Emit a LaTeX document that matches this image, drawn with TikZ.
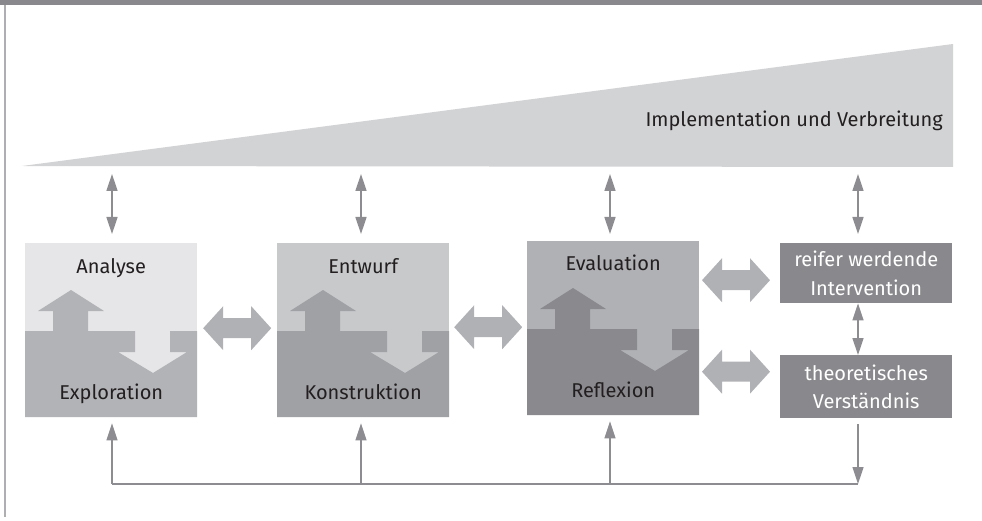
\documentclass[tikz,border=0pt]{standalone}
\usepackage{fontspec}
\setmainfont{Fira Sans}
\usetikzlibrary{arrows.meta,calc}
\definecolor{barc}{RGB}{137,137,141}
\definecolor{wedgec}{RGB}{210,211,213}
\definecolor{leftc}{RGB}{175,175,178}
\definecolor{atop}{RGB}{230,230,232}
\definecolor{abot}{RGB}{178,179,182}
\definecolor{btop}{RGB}{200,201,203}
\definecolor{bbot}{RGB}{160,161,165}
\definecolor{ctop}{RGB}{176,177,181}
\definecolor{cbot}{RGB}{138,138,142}
\definecolor{bigc}{RGB}{176,177,181}
\definecolor{arrc}{RGB}{140,140,145}
\definecolor{txt}{RGB}{35,31,32}
\tikzset{
  lbl/.style={font=\fontsize{20}{24}\selectfont, text=txt, inner sep=0pt, anchor=base},
  phase/.style={draw=none, minimum width=172pt, minimum height=174pt, inner sep=0pt, anchor=north west},
  side/.style={fill=barc, minimum width=172pt, inner sep=0pt, anchor=north west, text=white, align=center, font=\fontsize{20}{28.5}\selectfont},
  tipt/.tip={Triangle[width=11pt,length=17pt]},
  dblarr/.style={draw=arrc, line width=1.5pt, tipt-tipt},
  fbline/.style={draw=arrc, line width=1.2pt},
  fbarr/.style={draw=arrc, line width=1.2pt, -tipt},
  bigarr/.style={fill=bigc},
}
\newcommand\phasebox[7]{%
  \node[phase, fill=#4] (#1) at (#2,#3) {};
  \fill[#5, shift={(#1.north west)}] (0,88) -- (28,88) -- (28,68) -- (13,68) -- (46,47) -- (79,68) -- (63,68) -- (63,88)
     -- (110,88) -- (110,109) -- (93,109) -- (128,130) -- (162,109) -- (145,109) -- (145,88) -- (172,88)
     -- (172,174) -- (0,174) -- cycle;
  \node[lbl] (#1-top) at ([yshift=-30pt]#1.north) {#6};
  \node[lbl] (#1-bot) at ([yshift=-156pt]#1.north) {#7};
}
\newcommand\bigdarrow[1]{%
  \fill[bigarr, shift={#1}] (-34,0) -- (-14,-22) -- (-14,-10) -- (14,-10) -- (14,-22) -- (34,0)
     -- (14,22) -- (14,10) -- (-14,10) -- (-14,22) -- cycle;
}
\begin{document}
\begin{tikzpicture}[x=1pt,y=-1pt]
\useasboundingbox (0,0) rectangle (982,521);
% frame
\fill[barc] (0,0) rectangle (982,5);
\draw[leftc, line width=1.5pt] (5,5) -- (5,517);
% wedge
\fill[wedgec] (22,166) -- (953,44) -- (953,167) -- cycle;
\node[lbl, anchor=base east] (impl) at (943,127) {Implementation und Verbreitung};
\coordinate (wb) at (0,167);
% columns
\coordinate (c1) at (112,0);
\coordinate (c2) at (361,0);
\coordinate (c3) at (610,0);
\coordinate (c4) at (858,0);
\coordinate (fb) at (0,484);
% phase boxes
\phasebox{b1}{25}{243}{atop}{abot}{Analyse}{Exploration}
\phasebox{b2}{277}{243}{btop}{bbot}{Entwurf}{Konstruktion}
\phasebox{b3}{527}{241}{ctop}{cbot}{Evaluation}{Reflexion}
% side boxes
\node[side, minimum height=60pt] (b4) at (780,243) {reifer werdende\\Intervention};
\node[side, minimum height=63pt] (b5) at (780,355) {theoretisches\\Verständnis};
% big double arrows
\bigdarrow{($(b1.east)!0.5!(b2.west)+(0,-2)$)}
\bigdarrow{($(b2.east)!0.5!(b3.west)+(0,-2)$)}
\bigdarrow{([xshift=-44pt,yshift=-7pt]b4.west)}
\bigdarrow{([xshift=-44pt,yshift=15pt]b5.west)}
% small double arrows to wedge
\draw[dblarr, shorten <=7pt, shorten >=9pt] (c1 |- wb) -- (c1 |- b1.north);
\draw[dblarr, shorten <=7pt, shorten >=9pt] (c2 |- wb) -- (c2 |- b2.north);
\draw[dblarr, shorten <=7pt, shorten >=7pt] (c3 |- wb) -- (c3 |- b3.north);
\draw[dblarr, shorten <=7pt, shorten >=9pt] (c4 |- wb) -- (c4 |- b4.north);
\draw[dblarr] (c4 |- b4.south) -- (c4 |- b5.north);
% feedback loop
\draw[fbline] (c1 |- fb) -- (c4 |- fb);
\draw[fbarr, shorten >=6pt] (c1 |- fb) -- (c1 |- b1.south);
\draw[fbarr, shorten >=6pt] (c2 |- fb) -- (c2 |- b2.south);
\draw[fbarr, shorten >=6pt] (c3 |- fb) -- (c3 |- b3.south);
\draw[fbarr, shorten <=6pt] (c4 |- b5.south) -- (c4 |- fb);
\end{tikzpicture}
\end{document}
